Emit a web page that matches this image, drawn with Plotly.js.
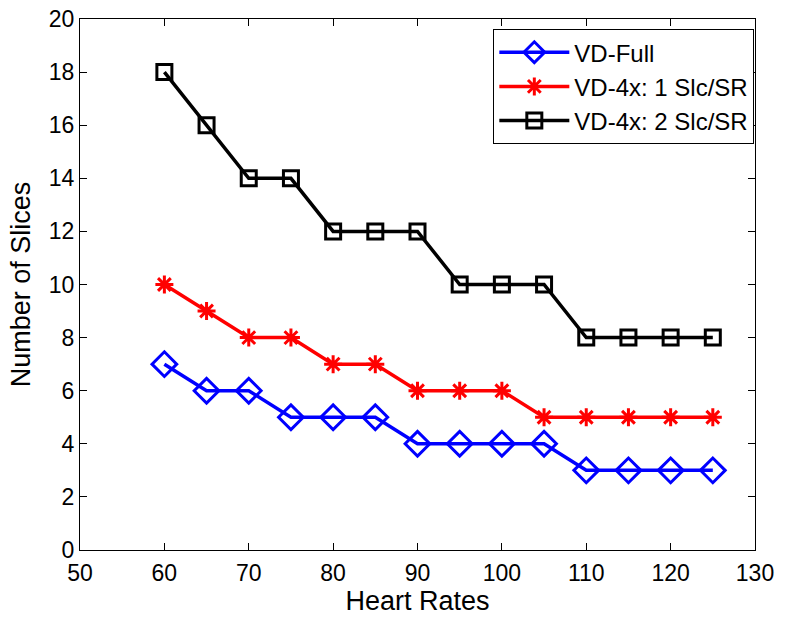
<!DOCTYPE html>
<html><head><meta charset="utf-8">
<script src="https://cdn.plot.ly/plotly-3.0.1.min.js"></script>
<style>body{margin:0;background:#fff}#c{width:785px;height:622px}</style>
</head><body><div id="c"></div>
<script>
var heartRates = [60,65,70,75,80,85,90,95,100,105,110,115,120,125];
var vdFull = [7,6,6,5,5,5,4,4,4,4,3,3,3,3];
var vd4x1 = [10,9,8,8,7,7,6,6,6,5,5,5,5,5];
var vd4x2 = [18,16,14,14,12,12,12,10,10,10,8,8,8,8];
var seriesNames = ['VD-Full','VD-4x: 1 Slc/SR','VD-4x: 2 Slc/SR'];

var fam = 'Liberation Sans, Arial, sans-serif';
var traces = [
  {x: heartRates, y: vdFull, name: seriesNames[0], mode: 'lines+markers',
   line: {color: '#0000ff', width: 3.5},
   marker: {symbol: 'diamond-open', size: 19, color: '#0000ff', line: {width: 3, color: '#0000ff'}}},
  {x: heartRates, y: vd4x1, name: seriesNames[1], mode: 'lines+markers',
   line: {color: '#ff0000', width: 3.5},
   marker: {symbol: 'asterisk-open', size: 15, color: '#ff0000', line: {width: 3, color: '#ff0000'}}},
  {x: heartRates, y: vd4x2, name: seriesNames[2], mode: 'lines+markers',
   line: {color: '#000000', width: 3.5},
   marker: {symbol: 'square-open', size: 15, color: '#000000', line: {width: 3, color: '#000000'}}}
];

var axisCommon = {
  showgrid: false, zeroline: false, showline: true, linecolor: '#000', linewidth: 1,
  mirror: 'ticks', ticks: 'inside', ticklen: 7, tickcolor: '#000', tickwidth: 1,
  tickfont: {family: fam, size: 23, color: '#000'}, automargin: false
};

var layout = {
  width: 785, height: 622,
  margin: {l: 80, r: 30, t: 19, b: 72},
  paper_bgcolor: '#fff', plot_bgcolor: '#fff',
  xaxis: Object.assign({}, axisCommon, {range: [50,130], dtick: 10, tick0: 50, ticklabelstandoff: 2,
    title: {text: 'Heart Rates', font: {family: fam, size: 27, color: '#000'}, standoff: 5}}),
  yaxis: Object.assign({}, axisCommon, {range: [0,20], dtick: 2, tick0: 0,
    title: {text: 'Number of Slices', font: {family: fam, size: 27, color: '#000'}, standoff: 10}}),
  showlegend: true,
  legend: {x: 0.999, y: 0.981, xanchor: 'right', yanchor: 'top',
    bgcolor: '#fff', bordercolor: '#000', borderwidth: 1,
    font: {family: fam, size: 24, color: '#000'},
    tracegroupgap: 0, itemwidth: 70}
};

Plotly.newPlot('c', traces, layout, {displayModeBar: false, staticPlot: true});
</script></body></html>
